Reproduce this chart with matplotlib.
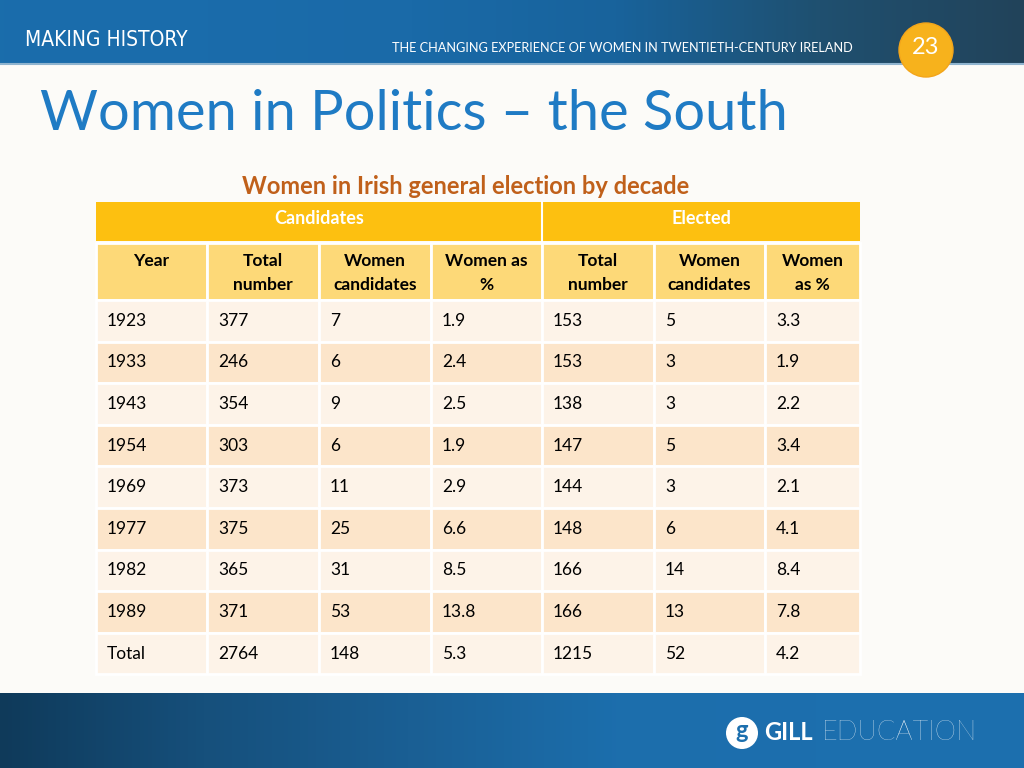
import numpy as np
import matplotlib
matplotlib.use("Agg")
import matplotlib.pyplot as plt
from matplotlib.colors import LinearSegmentedColormap
from matplotlib.patches import Rectangle, Circle

# table data
years = ["1923", "1933", "1943", "1954", "1969", "1977", "1982", "1989", "Total"]
cand_total = [377, 246, 354, 303, 373, 375, 365, 371, 2764]
cand_women = [7, 6, 9, 6, 11, 25, 31, 53, 148]
cand_pct = ["1.9", "2.4", "2.5", "1.9", "2.9", "6.6", "8.5", "13.8", "5.3"]
elec_total = [153, 153, 138, 147, 144, 148, 166, 166, 1215]
elec_women = [5, 3, 3, 5, 3, 6, 14, 13, 52]
elec_pct = ["3.3", "1.9", "2.2", "3.4", "2.1", "4.1", "8.4", "7.8", "4.2"]

groups = ["Candidates", "Elected"]
headers = [["Year"], ["Total", "number"], ["Women", "candidates"], ["Women as", "%"],
           ["Total", "number"], ["Women", "candidates"], ["Women", "as %"]]

FONT = "Lato"
fig = plt.figure(figsize=(10.24, 7.68), dpi=100)
fig.patch.set_facecolor("#fcfbf8")
ax = fig.add_axes([0, 0, 1, 1])
ax.set_xlim(0, 1024)
ax.set_ylim(768, 0)
ax.axis("off")

# banners
top_cm = LinearSegmentedColormap.from_list("top", ["#1a6dab", "#1a6cab", "#1a6aa8", "#18639c", "#1f5070", "#22435a"])
bot_cm = LinearSegmentedColormap.from_list("bot", ["#0f3a5a", "#16507c", "#1a5f94", "#1c6eac", "#1c6fae", "#1c6fae"])
grad = np.linspace(0, 1, 256).reshape(1, -1)
ax.imshow(grad, cmap=top_cm, extent=[0, 1024, 65, 0], aspect="auto", zorder=1)
ax.imshow(grad, cmap=bot_cm, extent=[0, 1024, 768, 693], aspect="auto", zorder=1)
ax.plot([0, 1024], [64, 64], color="#8fb4cf", lw=1.5, zorder=2)
ax.set_xlim(0, 1024)
ax.set_ylim(768, 0)

ax.text(25, 40, "MAKING HISTORY", color="white", fontsize=15, family="DejaVu Sans",
        fontstretch="condensed", va="center", ha="left", zorder=3)
ax.text(853, 48, "THE CHANGING EXPERIENCE OF WOMEN IN TWENTIETH-CENTURY IRELAND",
        color="white", fontsize=9.2, family=FONT, va="center", ha="right", zorder=3)
ax.add_patch(Circle((926, 50), 27, facecolor="#f7b21c", edgecolor="#f3a51a", zorder=4))
ax.text(926, 48, "23", color="white", fontsize=17, family=FONT,
        ha="center", va="center", zorder=5)

# footer logo
ax.add_patch(Circle((742, 733), 16, facecolor="white", zorder=4))
ax.text(742, 731, "g", color="#1c6fae", fontsize=17, weight="bold", family=FONT,
        ha="center", va="center", zorder=5)
ax.text(764, 733, "GILL", color="white", fontsize=17, weight="bold", family=FONT,
        ha="left", va="center", zorder=5)
ax.text(822, 733, "EDUCATION", color="white", fontsize=19.5, weight="light", family=FONT,
        ha="left", va="center", zorder=5)

# titles
ax.text(40, 114, "Women in Politics \u2013 the South", color="#1f7bc4", fontsize=40.3,
        family=FONT, ha="left", va="center", zorder=3)
ax.text(466, 186, "Women in Irish general election by decade", color="#c0601a",
        fontsize=17, weight="bold", family=FONT, ha="center", va="center", zorder=3)

# table geometry
xs = [96, 207, 319, 431, 542, 654, 765, 860]
y_grp = (202, 241)
y_hdr = (243, 300)
row_h = 41.6
y0 = 300

# group row
ax.add_patch(Rectangle((xs[0], y_grp[0]), xs[-1] - xs[0], y_grp[1] - y_grp[0],
                       facecolor="#fdc010", edgecolor="none", zorder=2))
ax.plot([xs[4], xs[4]], y_grp, color="white", lw=1.5, zorder=3)
ax.text((xs[0] + xs[4]) / 2, 219, groups[0], color="white", fontsize=13, weight="bold",
        family=FONT, ha="center", va="center", zorder=3)
ax.text((xs[4] + xs[-1]) / 2, 219, groups[1], color="white", fontsize=13, weight="bold",
        family=FONT, ha="center", va="center", zorder=3)

# header row
for c in range(7):
    ax.add_patch(Rectangle((xs[c], y_hdr[0]), xs[c + 1] - xs[c], y_hdr[1] - y_hdr[0],
                           facecolor="#fdd978", edgecolor="white", lw=2, zorder=2))
    cx = (xs[c] + xs[c + 1]) / 2
    for k, line in enumerate(headers[c]):
        ax.text(cx, 261 + 24 * k, line, color="black", fontsize=12.5, weight="bold",
                family=FONT, ha="center", va="center", zorder=3)

# data rows
cols = [years, cand_total, cand_women, cand_pct, elec_total, elec_women, elec_pct]
for r in range(len(years)):
    top = y0 + r * row_h
    fc = "#fdf3e8" if r % 2 == 0 else "#fce5ca"
    for c in range(7):
        ax.add_patch(Rectangle((xs[c], top), xs[c + 1] - xs[c], row_h,
                               facecolor=fc, edgecolor="white", lw=2, zorder=2))
        ax.text(xs[c] + 11, top + row_h / 2, str(cols[c][r]), color="black", fontsize=12.5,
                family=FONT, ha="left", va="center", zorder=3)

fig.savefig("out.png", dpi=100, facecolor=fig.get_facecolor())
